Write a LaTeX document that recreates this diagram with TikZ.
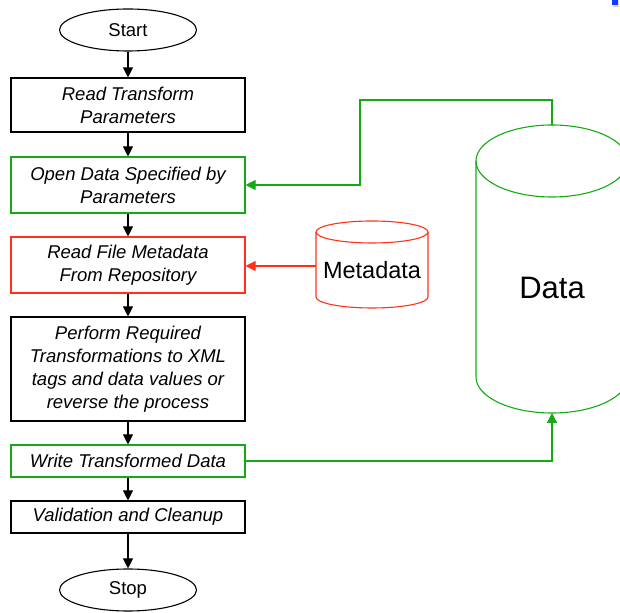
\documentclass[tikz,border=0pt]{standalone}
\usepackage{fontspec}
\setmainfont{Liberation Sans}
\usetikzlibrary{shapes.geometric,arrows.meta}
\definecolor{flowgreen}{RGB}{20,170,20}
\definecolor{flowred}{RGB}{255,50,25}
\definecolor{cornerblue}{RGB}{20,60,255}
\begin{document}
\begin{tikzpicture}[x=1pt,y=1pt,
  every node/.style={font=\fontsize{18.5}{23}\selectfont},
  terminal/.style={ellipse, draw, line width=1.1pt, minimum width=137pt,
    minimum height=42pt, inner sep=0pt},
  stepbox/.style={rectangle, draw, line width=1.1pt, minimum width=234pt,
    inner sep=0pt, align=center, font=\fontsize{18.5}{23}\selectfont\itshape},
  flow/.style={-{Triangle[length=10pt,width=10pt]}, line width=1.1pt},
  store/.style={line width=1.1pt},
]
\useasboundingbox (0,0) rectangle (620,612);

% corner marker
\fill[gray!30] (613,612) rectangle (619,605);
\fill[cornerblue] (612,612) rectangle (618,607);

% main flow
\node[terminal] (start) at (128,582) {Start};
\node[stepbox, minimum height=54pt] (read) at (128,507)
  {Read Transform\\Parameters};
\node[stepbox, minimum height=56pt, draw=flowgreen] (open) at (128,427)
  {Open Data Specified by\\Parameters};
\node[stepbox, minimum height=56pt, draw=flowred] (meta) at (128,347)
  {Read File Metadata\\From Repository};
\node[stepbox, minimum height=104pt] (xform) at (128,243)
  {Perform Required\\Transformations to XML\\tags and data values or\\reverse the process};
\node[stepbox, minimum height=32pt, draw=flowgreen] (write) at (128,151)
  {Write Transformed Data};
\node[stepbox, minimum height=32pt] (valid) at (128,95)
  {Validation and Cleanup};
\node[terminal] (stop) at (128,22) {Stop};

\draw[flow] (start) -- (read);
\draw[flow] (read) -- (open);
\draw[flow] (open) -- (meta);
\draw[flow] (meta) -- (xform);
\draw[flow] (xform) -- (write);
\draw[flow] (write) -- (valid);
\draw[flow] (valid) -- (stop);

% metadata store
\draw[store, flowred] (372,380) ellipse [x radius=56pt, y radius=11pt];
\draw[store, flowred] (316,380) -- (316,315)
  arc[start angle=180, end angle=360, x radius=56pt, y radius=11pt] -- (428,380);
\node[font=\fontsize{23.5}{28}\selectfont] (metalabel) at (372,342) {Metadata};
\coordinate (metaport) at (316,346);

% data store
\draw[store, flowgreen] (552,451) ellipse [x radius=76pt, y radius=36pt];
\draw[store, flowgreen] (476,451) -- (476,235)
  arc[start angle=180, end angle=360, x radius=76pt, y radius=36pt] -- (628,451);
\node[font=\fontsize{31}{36}\selectfont] (datalabel) at (552,324) {Data};
\coordinate (datatop) at (552,487);
\coordinate (databot) at (552,199);

% connectors to the stores
\draw[flow, flowred] (metaport) -- (meta.east |- metaport);
\draw[flow, flowgreen] (datatop) -- (552,512) -- (360,512) -- (360,427) -- (open.east);
\draw[flow, flowgreen] (write.east) -- (552,151) -- (databot);
\end{tikzpicture}
\end{document}
